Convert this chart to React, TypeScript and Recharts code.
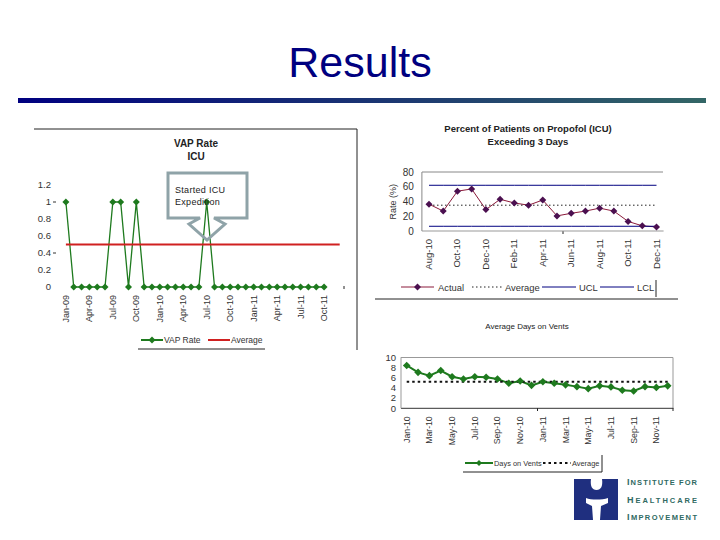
import { Legend, Line, LineChart, XAxis, YAxis } from "recharts";

const FONT = "'Liberation Sans', Arial, sans-serif";
const TEXT = "#333";

// VAP Rate (ICU)
const vapMonths = [
  "Jan-09", "Feb-09", "Mar-09", "Apr-09", "May-09", "Jun-09", "Jul-09", "Aug-09", "Sep-09", "Oct-09", "Nov-09", "Dec-09",
  "Jan-10", "Feb-10", "Mar-10", "Apr-10", "May-10", "Jun-10", "Jul-10", "Aug-10", "Sep-10", "Oct-10", "Nov-10", "Dec-10",
  "Jan-11", "Feb-11", "Mar-11", "Apr-11", "May-11", "Jun-11", "Jul-11", "Aug-11", "Sep-11", "Oct-11", "Nov-11", "Dec-11",
];
const vapRate = [
  1, 0, 0, 0, 0, 0, 1, 1, 0, 1, 0, 0,
  0, 0, 0, 0, 0, 0, 1, 0, 0, 0, 0, 0,
  0, 0, 0, 0, 0, 0, 0, 0, 0, 0, null, null,
];
const vapAverage = [
  0.5, 0.5, 0.5, 0.5, 0.5, 0.5, 0.5, 0.5, 0.5, 0.5, 0.5, 0.5,
  0.5, 0.5, 0.5, 0.5, 0.5, 0.5, 0.5, 0.5, 0.5, 0.5, 0.5, 0.5,
  0.5, 0.5, 0.5, 0.5, 0.5, 0.5, 0.5, 0.5, 0.5, 0.5, 0.5, 0.5,
];
const vapTicks = [0, 0.2, 0.4, 0.6, 0.8, 1, 1.2];

// Percent of patients on propofol
const propofolMonths = [
  "Aug-10", "Sep-10", "Oct-10", "Nov-10", "Dec-10", "Jan-11", "Feb-11", "Mar-11", "Apr-11",
  "May-11", "Jun-11", "Jul-11", "Aug-11", "Sep-11", "Oct-11", "Nov-11", "Dec-11",
];
const propofolActual = [36.4, 27, 54, 57, 29, 43, 38, 35, 42, 20.5, 24, 27, 31, 27, 13, 7, 5.5];
const propofolAverage = [35, 35, 35, 35, 35, 35, 35, 35, 35, 35, 35, 35, 35, 35, 35, 35, 35];
const propofolUcl = [62, 62, 62, 62, 62, 62, 62, 62, 62, 62, 62, 62, 62, 62, 62, 62, 62];
const propofolLcl = [6.4, 6.4, 6.4, 6.4, 6.4, 6.4, 6.4, 6.4, 6.4, 6.4, 6.4, 6.4, 6.4, 6.4, 6.4, 6.4, 6.4];
const propofolTicks = [0, 20, 40, 60, 80];

// Average days on vents
const ventMonths = [
  "Jan-10", "Feb-10", "Mar-10", "Apr-10", "May-10", "Jun-10", "Jul-10", "Aug-10", "Sep-10", "Oct-10", "Nov-10", "Dec-10",
  "Jan-11", "Feb-11", "Mar-11", "Apr-11", "May-11", "Jun-11", "Jul-11", "Aug-11", "Sep-11", "Oct-11", "Nov-11", "Dec-11",
];
const ventDays = [8.4, 7.05, 6.4, 7.4, 6.2, 5.75, 6.2, 6.1, 5.75, 4.9, 5.35, 4.5, 5.2, 4.9, 4.6, 4.25, 3.85, 4.4, 4.2, 3.55, 3.4, 4.25, 4.1, 4.4];
const ventAverage = [5.2, 5.2, 5.2, 5.2, 5.2, 5.2, 5.2, 5.2, 5.2, 5.2, 5.2, 5.2, 5.2, 5.2, 5.2, 5.2, 5.2, 5.2, 5.2, 5.2, 5.2, 5.2, 5.2, 5.2];
const ventTicks = [0, 2, 4, 6, 8, 10];

const vapData = vapMonths.map((month, i) => ({ month, rate: vapRate[i], average: vapAverage[i] }));
const propofolData = propofolMonths.map((month, i) => ({
  month,
  actual: propofolActual[i],
  average: propofolAverage[i],
  ucl: propofolUcl[i],
  lcl: propofolLcl[i],
}));
const ventData = ventMonths.map((month, i) => ({ month, days: ventDays[i], average: ventAverage[i] }));

const Diamond = ({ cx, cy, r, fill }: any) => {
  if (cx == null || cy == null) return null;
  return <path d={`M${cx} ${cy - r}L${cx + r} ${cy}L${cx} ${cy + r}L${cx - r} ${cy}Z`} fill={fill} />;
};

const diamondDot = (r: number, fill: string) => (props: any) => (
  <Diamond key={props.index} cx={props.cx} cy={props.cy} r={r} fill={fill} />
);

// x tick turned to read bottom-up, like the Excel originals
const SideTick = ({ x, y, payload, size }: any) => (
  <text
    transform={`translate(${x + 3},${y}) rotate(-90)`}
    textAnchor="end"
    fontSize={size}
    fontFamily={FONT}
    fill={TEXT}
  >
    {payload.value}
  </text>
);

const VapYTick = ({ x, y, payload }: any) => (
  <g>
    <text x={x - 3} y={y + 3} textAnchor="end" fontSize={9.5} fontFamily={FONT} fill={TEXT}>
      {payload.value}
    </text>
    {(payload.value === 1 || payload.value === 0.4) && (
      <line x1={x - 1} x2={x + 2} y1={y} y2={y} stroke="#333" />
    )}
  </g>
);

// samples are in series order, each with its own x inside the legend
const LegendRow = ({ payload, samples, size }: any) => (
  <div style={{ position: "relative", height: 12, fontFamily: FONT, fontSize: size, color: TEXT, whiteSpace: "nowrap" }}>
    {(payload || []).map((item: any, i: number) => {
      const s = samples[i];
      return (
        <span key={item.value} style={{ position: "absolute", left: s.x, top: 0, height: 12, display: "flex", alignItems: "center" }}>
          <svg width={s.width} height={10} style={{ marginRight: s.gap ?? 1 }}>
            <line x1={0} x2={s.width} y1={5} y2={5} stroke={item.color} strokeWidth={s.stroke} strokeDasharray={s.dash} />
            {s.marker && <Diamond cx={s.width / 2} cy={5} r={s.r} fill={s.marker} />}
          </svg>
          {item.value}
        </span>
      );
    })}
  </div>
);

const Note = ({ left, top, width, size, bold, children }: any) => (
  <div
    style={{
      position: "absolute",
      left,
      top,
      width,
      textAlign: "center",
      fontFamily: FONT,
      fontSize: size,
      fontWeight: bold ? "bold" : "normal",
      color: "#222",
      lineHeight: `${size + 3}px`,
      whiteSpace: "nowrap",
    }}
  >
    {children}
  </div>
);

const Logo = () => (
  <svg style={{ position: "absolute", left: 570, top: 475 }} width={140} height={52}>
    <rect x={4} y={4} width={44} height={41} fill="#1f2f7f" />
    <path d="M21 4C20 11 22 15 26.5 15C31 15 33 11 32 4Z" fill="#fff" />
    <path d="M16 23C21 25 32 25 38 23L38 28L31 31L30 45L23 45L22 31L16 28Z" fill="#fff" />
    {["NSTITUTE FOR", "EALTHCARE", "MPROVEMENT"].map((label, i) => (
      <text
        key={label}
        x={57}
        y={10 + i * 17.5}
        fontFamily={FONT}
        fontWeight="bold"
        fill="#2f6a62"
        textLength={70}
        lengthAdjust="spacing"
      >
        <tspan fontSize={9}>{["I", "H", "I"][i]}</tspan>
        <tspan fontSize={7.5}>{label}</tspan>
      </text>
    ))}
  </svg>
);

const App = () => {
  return (
    <div style={{ position: "absolute", left: 0, top: 0, width: 720, height: 540, background: "#fff", overflow: "hidden" }}>
      <div
        style={{
          position: "absolute",
          left: 0,
          width: 720,
          top: 37,
          textAlign: "center",
          fontFamily: FONT,
          fontSize: 43,
          lineHeight: "50px",
          color: "#000080",
        }}
      >
        Results
      </div>
      <div
        style={{
          position: "absolute",
          left: 18,
          top: 98,
          width: 688,
          height: 5,
          background: "linear-gradient(to right, #000080, #336666)",
        }}
      />

      {/* frames and rules left over from the pasted charts */}
      <svg style={{ position: "absolute", left: 0, top: 0 }} width={720} height={540}>
        <path d="M34 129H357V350" fill="none" stroke="#222" />
        <path d="M138 349H265" fill="none" stroke="#222" />
        <path d="M344 286V289" fill="none" stroke="#222" />
        <path d="M375 299H678M656 280V297" fill="none" stroke="#222" />
        <path d="M422 172H663" fill="none" stroke="#888" />
        <path d="M563 231V234" fill="none" stroke="#222" />
        <path d="M463 472H602V455" fill="none" stroke="#222" />
        <path d="M401 357.5H673V408" fill="none" stroke="#999" />
        <path d="M537.5 408V411M673 408V411" fill="none" stroke="#222" />
      </svg>

      <Note left={146} top={137} width={100} size={10} bold>
        VAP Rate
        <br />
        ICU
      </Note>
      <div style={{ position: "absolute", left: 30, top: 125 }}>
        <LineChart width={330} height={225} data={vapData} margin={{ top: 60, right: 16.4, bottom: 18, left: 10 }}>
          <XAxis
            dataKey="month"
            height={45}
            interval={2}
            padding={{ left: 3.9, right: 3.9 }}
            axisLine={false}
            tickLine={false}
            tick={<SideTick size={9} />}
            tickMargin={2}
          />
          <YAxis
            width={22}
            domain={[0, 1.2]}
            ticks={vapTicks}
            interval={0}
            axisLine={false}
            tickLine={false}
            tick={<VapYTick />}
          />
          <Legend
            verticalAlign="middle"
            itemSorter={null}
            wrapperStyle={{ left: 111, top: 209, width: 140 }}
            content={(props: any) => (
              <LegendRow
                {...props}
                size={8.5}
                samples={[
                  { x: 0, width: 22, stroke: 2, marker: "#1e7a1e", r: 3.5 },
                  { x: 67, width: 22, stroke: 2 },
                ]}
              />
            )}
          />
          <Line
            dataKey="rate"
            name="VAP Rate"
            stroke="#1e7a1e"
            strokeWidth={1.3}
            dot={diamondDot(3.5, "#1e7a1e")}
            isAnimationActive={false}
          />
          <Line dataKey="average" name="Average" stroke="#d02020" strokeWidth={2} dot={false} isAnimationActive={false} />
        </LineChart>
      </div>

      {/* callout */}
      <svg style={{ position: "absolute", left: 0, top: 0 }} width={720} height={540}>
        <path
          d="M168 173H247V218H214L225 224L207 240L189 224L200 218H168Z"
          fill="none"
          stroke="#8fa3a8"
          strokeWidth={3}
        />
        <text x={175} y={193} fontFamily={FONT} fontSize={9} letterSpacing={0.3} fill="#222">
          Started ICU
        </text>
        <text x={175} y={205} fontFamily={FONT} fontSize={9} letterSpacing={0.3} fill="#222">
          Expedition
        </text>
      </svg>

      <Note left={428} top={123} width={200} size={9.5} bold>
        Percent of Patients on Propofol (ICU)
        <br />
        Exceeding 3 Days
      </Note>
      <div style={{ position: "absolute", left: 375, top: 118 }}>
        <LineChart width={305} height={185} data={propofolData} margin={{ top: 54, right: 16.4, bottom: 22, left: 22.9 }}>
          <XAxis
            dataKey="month"
            height={50}
            interval={1}
            padding={{ left: 7.1, right: 7.1 }}
            axisLine={{ stroke: "#999" }}
            tickLine={false}
            tick={<SideTick size={9.5} />}
          />
          <YAxis
            width={24}
            domain={[0, 80]}
            ticks={propofolTicks}
            interval={0}
            axisLine={{ stroke: "#888" }}
            tickLine={false}
            tick={{ fontSize: 10, fontFamily: FONT, fill: TEXT }}
            label={{
              value: "Rate (%)",
              angle: -90,
              position: "insideLeft",
              offset: 0,
              dx: -5,
              dy: 18,
              fontSize: 9,
              fontFamily: FONT,
              fill: TEXT,
            }}
          />
          <Legend
            verticalAlign="middle"
            itemSorter={null}
            wrapperStyle={{ left: 26, top: 163, width: 280 }}
            content={(props: any) => (
              <LegendRow
                {...props}
                size={9.4}
                samples={[
                  { x: 0, width: 33, stroke: 1, marker: "#4b1050", r: 3.5, gap: 4 },
                  { x: 71, width: 30, stroke: 1, dash: "1.5 2.5", gap: 3 },
                  { x: 141, width: 34, stroke: 1, gap: 3 },
                  { x: 199, width: 34, stroke: 1, gap: 3 },
                ]}
              />
            )}
          />
          <Line
            dataKey="actual"
            name="Actual"
            stroke="#8b1a3a"
            strokeWidth={1}
            dot={diamondDot(3.5, "#4b1050")}
            isAnimationActive={false}
          />
          <Line
            dataKey="average"
            name="Average"
            stroke="#222"
            strokeWidth={1}
            strokeDasharray="1.5 2.5"
            dot={false}
            isAnimationActive={false}
          />
          <Line dataKey="ucl" name="UCL" stroke="#000080" strokeWidth={1} dot={false} isAnimationActive={false} />
          <Line dataKey="lcl" name="LCL" stroke="#000080" strokeWidth={1} dot={false} isAnimationActive={false} />
        </LineChart>
      </div>

      <Note left={447} top={321} width={160} size={8}>
        Average Days on Vents
      </Note>
      <div style={{ position: "absolute", left: 375, top: 340 }}>
        <LineChart width={310} height={140} data={ventData} margin={{ top: 17.3, right: 11.6, bottom: 26.7, left: 4 }}>
          <XAxis
            dataKey="month"
            height={45}
            interval={1}
            padding={{ left: 5.7, right: 5.7 }}
            axisLine={{ stroke: "#333" }}
            tickLine={false}
            tick={<SideTick size={8.7} />}
          />
          <YAxis
            width={22}
            domain={[0, 10]}
            ticks={ventTicks}
            interval={0}
            axisLine={{ stroke: "#999" }}
            tickLine={false}
            tickSize={3}
            tick={{ fontSize: 9.5, fontFamily: FONT, fill: TEXT }}
          />
          <Legend
            verticalAlign="middle"
            itemSorter={null}
            wrapperStyle={{ left: 90, top: 117, width: 160 }}
            content={(props: any) => (
              <LegendRow
                {...props}
                size={7.4}
                samples={[
                  { x: 0, width: 28, stroke: 2, marker: "#1e7a1e", r: 3 },
                  { x: 78, width: 28, stroke: 2, dash: "2.5 3" },
                ]}
              />
            )}
          />
          <Line
            dataKey="days"
            name="Days on Vents"
            stroke="#1e7a1e"
            strokeWidth={2}
            dot={diamondDot(3.8, "#1e7a1e")}
            isAnimationActive={false}
          />
          <Line
            dataKey="average"
            name="Average"
            stroke="#111"
            strokeWidth={2}
            strokeDasharray="2.5 3"
            dot={false}
            isAnimationActive={false}
          />
        </LineChart>
      </div>

      <Logo />
    </div>
  );
};

export default App;
